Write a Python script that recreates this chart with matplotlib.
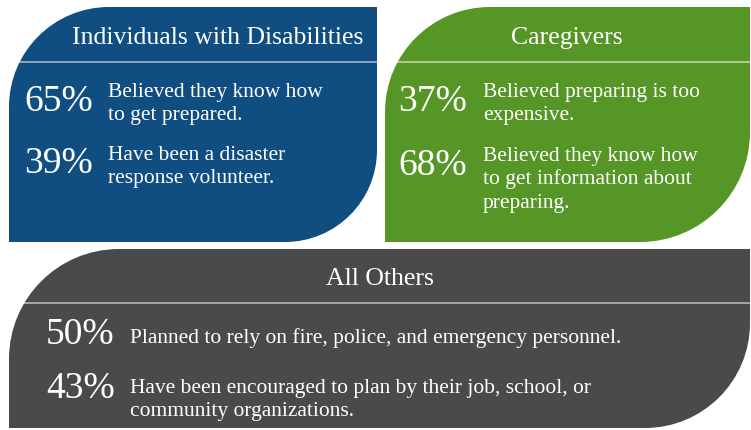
import matplotlib
matplotlib.use("Agg")
import matplotlib.pyplot as plt
from matplotlib.path import Path
from matplotlib.patches import PathPatch

# 数据
groups = ["Individuals with Disabilities", "Caregivers", "All Others"]
percents = [["65%", "39%"], ["37%", "68%"], ["50%", "43%"]]
statements = [
    ["Believed they know how\nto get prepared.",
     "Have been a disaster\nresponse volunteer."],
    ["Believed preparing is too\nexpensive.",
     "Believed they know how\nto get information about\npreparing."],
    ["Planned to rely on fire, police, and emergency personnel.",
     "Have been encouraged to plan by their job, school, or\ncommunity organizations."],
]
colors = ["#104e82", "#559626", "#4a4a4a"]

# 版面（像素坐标，y 向下）
boxes = [(9, 8, 377, 243), (385, 8, 750, 243), (9, 250, 750, 429)]
radii = [(100, 92), (105, 110), (110, 105)]
title_pos = [(218, 44), (567, 44), (380, 285)]
divider_y = [63, 63, 304]
pct_x = [24, 398, 46]
text_x = [108, 483, 130]
pct_base = [[111, 173], [111, 175], [344, 398]]
text_base = [[97, 160], [97, 161], [343, 393]]
line_gap = 23.5

plt.rcParams['font.family'] = ['Liberation Serif', 'DejaVu Serif']


def leaf_path(x0, y0, x1, y1, r_tl, r_br):
    k = 0.5523
    verts = [(x0 + r_tl, y0), (x1, y0), (x1, y1 - r_br),
             (x1, y1 - r_br + k * r_br), (x1 - r_br + k * r_br, y1), (x1 - r_br, y1),
             (x0, y1), (x0, y0 + r_tl),
             (x0, y0 + r_tl - k * r_tl), (x0 + r_tl - k * r_tl, y0), (x0 + r_tl, y0),
             (x0 + r_tl, y0)]
    codes = [Path.MOVETO, Path.LINETO, Path.LINETO,
             Path.CURVE4, Path.CURVE4, Path.CURVE4,
             Path.LINETO, Path.LINETO,
             Path.CURVE4, Path.CURVE4, Path.CURVE4,
             Path.CLOSEPOLY]
    return Path(verts, codes)


fig = plt.figure(figsize=(7.51, 4.31), dpi=100)
ax = fig.add_axes([0, 0, 1, 1])
ax.set_xlim(0, 751)
ax.set_ylim(431, 0)
ax.axis('off')

for i, g in enumerate(groups):
    x0, y0, x1, y1 = boxes[i]
    ax.add_patch(PathPatch(leaf_path(x0, y0, x1, y1, *radii[i]),
                           facecolor=colors[i], edgecolor='none'))
    # 分隔线
    ax.plot([x0, x1], [divider_y[i]] * 2, color='white', alpha=0.6, lw=1.2)
    ax.text(title_pos[i][0], title_pos[i][1], g, color='white', fontsize=18.5,
            ha='center', va='baseline')
    for j in range(2):
        ax.text(pct_x[i], pct_base[i][j], percents[i][j], color='white',
                fontsize=27, ha='left', va='baseline')
        for n, line in enumerate(statements[i][j].split("\n")):
            ax.text(text_x[i], text_base[i][j] + n * line_gap, line, color='white',
                    fontsize=15.5, ha='left', va='baseline')

fig.savefig("out.png", dpi=100)
